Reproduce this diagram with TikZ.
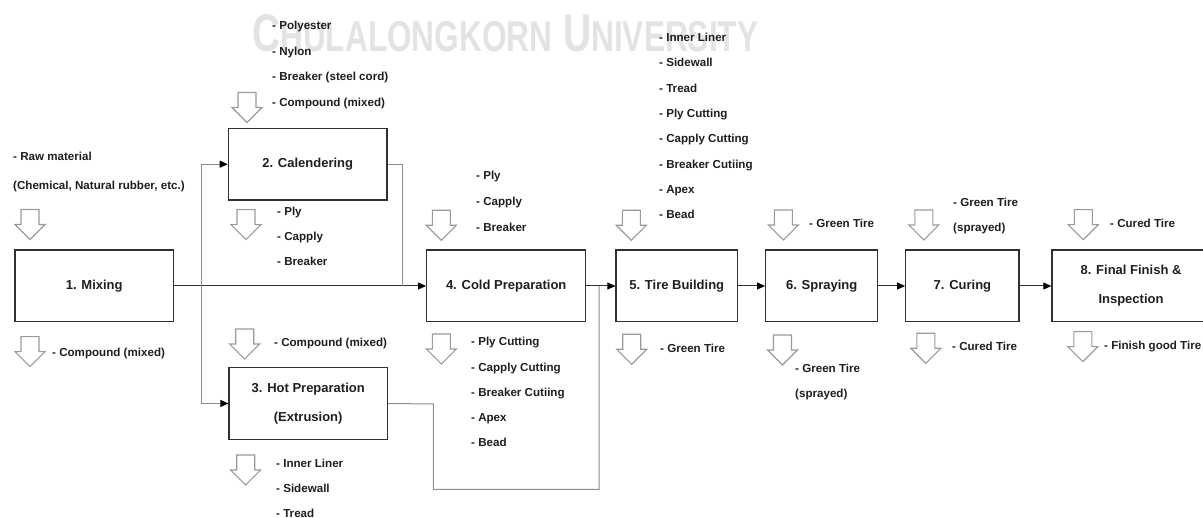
\documentclass[tikz,border=0pt]{standalone}
\usepackage{graphicx}
\usepackage{fontspec}
\setmainfont{Liberation Sans}
\usetikzlibrary{arrows.meta}

\definecolor{ink}{HTML}{1E1E1E}
\definecolor{edge}{HTML}{303030}
\definecolor{hollowgray}{HTML}{9A9A9A}
\definecolor{pipe}{HTML}{8E8E8E}
\definecolor{markgray}{HTML}{E3E3E3}

\tikzset{
  stepbox/.style={draw=edge, line width=1.3pt, inner sep=0pt, align=center,
    text=ink, font=\fontsize{13}{29}\selectfont\bfseries},
  item/.style={anchor=west, inner sep=0pt, text height=8.3pt, text depth=0pt,
    text=ink, font=\fontsize{11.6}{13}\selectfont\bfseries},
  flow/.style={draw=edge, line width=1pt},
  pipeline/.style={draw=pipe, line width=1pt},
  tipped/.style={-{Triangle[length=8pt,width=7pt,color=black]}},
  feed/.pic={
    \draw[draw=hollowgray, line width=1.1pt, line join=miter]
      (-9,-15) -- (9,-15) -- (9,0) -- (15,0) -- (0,15) -- (-15,0) -- (-9,0) -- cycle;
  }
}

\begin{document}
\begin{tikzpicture}[x=1pt, y=-1pt]
\useasboundingbox (0,0) rectangle (1203,518);

% faint heading printed behind the chart
\node[anchor=south west, inner sep=0pt, text=markgray] (wm) at (252,52)
  {\resizebox{506pt}{37pt}{\fontsize{51.7}{52}\selectfont\bfseries
   C{\fontsize{42}{42}\selectfont HULALONGKORN} U{\fontsize{42}{42}\selectfont NIVERSITY}}};

% process steps
\node[stepbox, minimum width=158.5pt, minimum height=71.7pt] (mix)   at (94.2,286)   {1. Mixing};
\node[stepbox, minimum width=158.7pt, minimum height=71.7pt] (cal)   at (307.7,164.2) {2. Calendering};
\node[stepbox, minimum width=158.3pt, minimum height=71.6pt] (hot)   at (308.2,403.5) {3. Hot Preparation\\(Extrusion)};
\node[stepbox, minimum width=159pt,   minimum height=71.7pt] (cold)  at (506.2,286)   {4. Cold Preparation};
\node[stepbox, minimum width=121.3pt, minimum height=71.7pt] (build) at (676.7,286)   {5. Tire Building};
\node[stepbox, minimum width=112pt,   minimum height=71.7pt] (spray) at (821.7,286)   {6. Spraying};
\node[stepbox, minimum width=113.3pt, minimum height=71.7pt] (cure)  at (962.4,286)   {7. Curing};
\node[stepbox, minimum width=158pt,   minimum height=71.7pt] (final) at (1131,286)    {8. Final Finish \&\\Inspection};

% junction points of the routing lines
\coordinate (split)   at (201,286);
\coordinate (calout)  at (402,286);
\coordinate (hotturn) at (433.3,404);
\coordinate (hotlow)  at (599,489.3);
\coordinate (hotin)   at (599,286);

% connectors
\draw[flow, tipped] (mix.east) -- (cold.west);
\draw[pipeline, tipped] (split) |- (cal.west);
\draw[pipeline, tipped] (split) |- (hot.west);
\draw[pipeline] (cal.east) -| (calout);
\draw[pipeline] (hot.east) -- (hotturn) |- (hotlow) -- (hotin);
\draw[flow, tipped] (cold.east) -- (build.west);
\draw[flow, tipped] (build.east) -- (spray.west);
\draw[flow, tipped] (spray.east) -- (cure.west);
\draw[flow, tipped] (cure.east) -- (final.west);

% material arrows
\pic (inmix)    at (30,224.5)   {feed};
\pic (outmix)   at (30,351.7)   {feed};
\pic (incal)    at (247,107.5)  {feed};
\pic (outcal)   at (246,224.7)  {feed};
\pic (inhot)    at (244.7,344)  {feed};
\pic (outhot)   at (245.7,470)  {feed};
\pic (incold)   at (441.3,225.3) {feed};
\pic (outcold)  at (441.3,349)  {feed};
\pic (inbuild)  at (631.3,225.3) {feed};
\pic (outbuild) at (631.7,349.3) {feed};
\pic (inspray)  at (783.3,225)  {feed};
\pic (outspray) at (782.5,350)  {feed};
\pic (incure)   at (923.8,225)  {feed};
\pic (outcure)  at (925.8,348.3) {feed};
\pic (infinal)  at (1083.3,224.7) {feed};
\pic (outfinal) at (1082.8,346.7) {feed};

% material lists
\foreach \t [count=\i from 0] in {- Raw material, {(Chemical, Natural rubber, etc.)}}
  \node[item] (raw-\i) at (13,156.5+28.5*\i) {\t};
\node[item] (mixout) at (52,352.7) {- Compound (mixed)};

\foreach \t [count=\i from 0] in {- Polyester, - Nylon, - Breaker (steel cord), - Compound (mixed)}
  \node[item] (calin-\i) at (272,25.8+25.4*\i) {\t};
\foreach \t [count=\i from 0] in {- Ply, - Capply, - Breaker}
  \node[item] (calout-\i) at (277,211.3+25.2*\i) {\t};

\node[item] (hotin-0) at (274,342) {- Compound (mixed)};
\foreach \t [count=\i from 0] in {- Inner Liner, - Sidewall, - Tread}
  \node[item] (hotout-\i) at (276,463+25.4*\i) {\t};

\foreach \t [count=\i from 0] in {- Ply, - Capply, - Breaker}
  \node[item] (coldin-\i) at (476,175.7+25.6*\i) {\t};
\foreach \t [count=\i from 0] in {- Ply Cutting, - Capply Cutting, - Breaker Cutiing, - Apex, - Bead}
  \node[item] (coldout-\i) at (471,341.7+25.25*\i) {\t};

\foreach \t [count=\i from 0] in {- Inner Liner, - Sidewall, - Tread, - Ply Cutting, - Capply Cutting, - Breaker Cutiing, - Apex, - Bead}
  \node[item] (buildin-\i) at (659,37.5+25.3*\i) {\t};
\node[item] (buildout) at (660,348.3) {- Green Tire};

\node[item] (sprayin) at (809,223.7) {- Green Tire};
\foreach \t [count=\i from 0] in {- Green Tire, (sprayed)}
  \node[item] (sprayout-\i) at (795,368.3+25.4*\i) {\t};

\foreach \t [count=\i from 0] in {- Green Tire, (sprayed)}
  \node[item] (curein-\i) at (953,202+25.7*\i) {\t};
\node[item] (cureout) at (952,346.7) {- Cured Tire};

\node[item] (finalin) at (1110,223.3) {- Cured Tire};
\node[item] (finalout) at (1104,345.3) {- Finish good Tire};
\end{tikzpicture}
\end{document}
